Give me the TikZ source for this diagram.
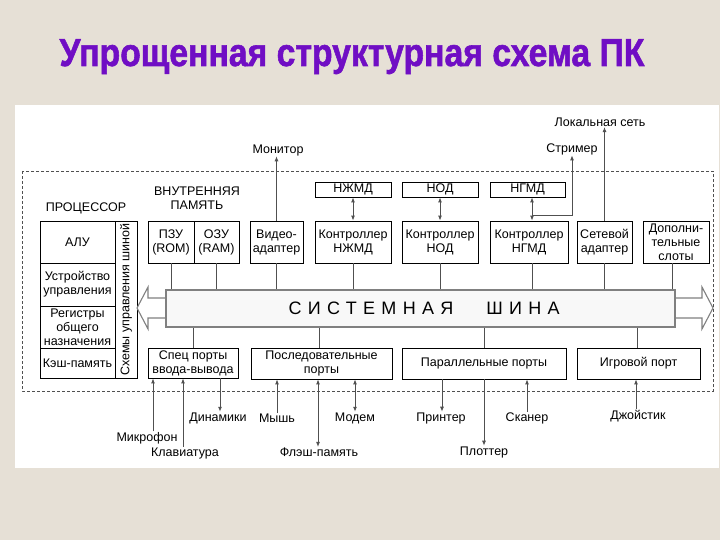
\documentclass[tikz,border=0pt]{standalone}
\usepackage{fontspec}
\usepackage{graphicx}
\setmainfont{Liberation Sans}
\usetikzlibrary{arrows.meta}
\definecolor{bg}{RGB}{230,224,214}
\definecolor{cgray}{RGB}{80,80,80}
\definecolor{ttl}{RGB}{112,14,196}
\definecolor{busfill}{RGB}{248,248,248}
\newcommand\dfont{\fontsize{12.5}{14}\selectfont}
\begin{document}
\begin{tikzpicture}[x=1pt,y=-1pt,
  box/.style={draw=black, line width=0.8pt, fill=white, inner sep=0pt, align=center, font=\dfont},
  lbl/.style={inner sep=0.5pt, align=center, font=\dfont},
  ln/.style={draw=cgray, line width=0.9pt},
  arr/.style={ln, -{Latex[length=5pt,width=4pt]}},
  darr/.style={ln, {Latex[length=5pt,width=4pt]}-{Latex[length=5pt,width=4pt]}},
  blk/.style={draw=gray, line width=1.1pt, fill=white, line join=miter},
  bustxt/.style={inner sep=0pt, font=\fontsize{18}{20}\selectfont\addfontfeature{LetterSpace=35}}]
\useasboundingbox (0,0) rectangle (720,540);
\fill[bg] (0,0) rectangle (720,540);
\fill[white] (15,105) rectangle (719,468);

% title
\node[inner sep=0, anchor=base, text=ttl, font=\bfseries\fontsize{39}{44}\selectfont\addfontfeature{FakeBold=1.6}] (title) at (352,66)
  {\resizebox{585pt}{\height}{Упрощенная структурная схема ПК}};

% dashed frame
\draw[cgray, dash pattern=on 3pt off 2pt, line width=0.8pt] (22,171) rectangle (713,391);

% processor
\node[lbl] (proc) at (86,208) {ПРОЦЕССОР};
\node[box, minimum width=75, minimum height=42] (alu) at (77.5,242) {АЛУ};
\node[box, minimum width=75, minimum height=43] (cu) at (77.5,284.5) {Устройство\\управления};
\node[box, minimum width=75, minimum height=42] (reg) at (77.5,327) {Регистры\\общего\\назначения};
\node[box, minimum width=75, minimum height=30] (cache) at (77.5,363) {Кэш-память};
\node[box, rotate=90, minimum width=157, minimum height=22] (strip) at (126,299.5) {Схемы управления шиной};

% internal memory
\node[lbl] (mem) at (197,198) {ВНУТРЕННЯЯ\\ПАМЯТЬ};
\node[box, minimum width=46, minimum height=42] (rom) at (171,242) {ПЗУ\\(ROM)};
\node[box, minimum width=45, minimum height=42] (ram) at (216.5,242) {ОЗУ\\(RAM)};

% top row
\node[box, minimum width=53, minimum height=42] (video) at (276.5,242) {Видео-\\адаптер};
\node[box, minimum width=76, minimum height=42] (knzhmd) at (353,242) {Контроллер\\НЖМД};
\node[box, minimum width=76, minimum height=15] (nzhmd) at (353,189.5) {НЖМД};
\node[box, minimum width=76, minimum height=42] (knod) at (440,242) {Контроллер\\НОД};
\node[box, minimum width=76, minimum height=15] (nod) at (440,189.5) {НОД};
\node[box, minimum width=78, minimum height=42] (kngmd) at (529,242) {Контроллер\\НГМД};
\node[box, minimum width=75, minimum height=15] (ngmd) at (527.5,189.5) {НГМД};
\node[box, minimum width=55, minimum height=42] (net) at (604.5,242) {Сетевой\\адаптер};
\node[box, minimum width=66, minimum height=42] (dop) at (676,242) {Дополни-\\тельные\\слоты};

\node[lbl] (mon) at (278,150) {Монитор};
\node[lbl] (strim) at (572,149) {Стример};
\node[lbl] (lan) at (600,122) {Локальная сеть};

% block arrows and bus
\draw[blk] (166,298) -- (148,298) -- (148,287) -- (137,308) -- (148,329) -- (148,318) -- (166,318);
\draw[blk] (675,298) -- (702,298) -- (702,287) -- (713,308) -- (702,329) -- (702,318) -- (675,318);
\node[draw=gray, line width=1.2pt, fill=busfill, minimum width=509, minimum height=37, inner sep=0] (bus) at (420.5,308.5) {};
\node[bustxt] (w1) at (371,308) {СИСТЕМНАЯ};
\node[bustxt] (w2) at (523,308) {ШИНА};

% bottom row
\node[box, minimum width=90, minimum height=30] (sp) at (193,363) {Спец порты\\ввода-вывода};
\node[box, minimum width=141, minimum height=31] (seq) at (321.5,363.5) {Последовательные\\порты};
\node[box, minimum width=164, minimum height=31] (par) at (484,363.5) {Параллельные порты};
\node[box, minimum width=123, minimum height=31] (game) at (638.5,363.5) {Игровой порт};

% bottom labels
\node[lbl] (mic) at (147,438) {Микрофон};
\node[lbl] (kbd) at (185,453) {Клавиатура};
\node[lbl] (dyn) at (218,418) {Динамики};
\node[lbl] (mouse) at (277,418) {Мышь};
\node[lbl] (flash) at (319,452) {Флэш-память};
\node[lbl] (modem) at (355,418) {Модем};
\node[lbl] (printer) at (441,418) {Принтер};
\node[lbl] (plotter) at (484,452) {Плоттер};
\node[lbl] (scanner) at (527,418) {Сканер};
\node[lbl] (joy) at (638,416) {Джойстик};

% connectors to bus
\draw[ln] (rom.south) -- (rom.south |- bus.north);
\draw[ln] (ram.south) -- (ram.south |- bus.north);
\draw[ln] (video.south) -- (video.south |- bus.north);
\draw[ln] (knzhmd.south) -- (knzhmd.south |- bus.north);
\draw[ln] (knod.south) -- (knod.south |- bus.north);
\draw[ln] (532,0 |- kngmd.south) -- (532,0 |- bus.north);
\draw[ln] (net.south) -- (net.south |- bus.north);
\draw[ln] (672,0 |- dop.south) -- (672,0 |- bus.north);
\draw[ln] (sp.north) -- (sp.north |- bus.south);
\draw[ln] (319,0 |- seq.north) -- (319,0 |- bus.south);
\draw[ln] (par.north) -- (par.north |- bus.south);
\draw[ln] (637,0 |- game.north) -- (637,0 |- bus.south);

% top arrows
\draw[arr] (video.north) -- (video.north |- mon.south);
\draw[darr] (nzhmd.south) -- (knzhmd.north);
\draw[darr] (nod.south) -- (knod.north);
\draw[darr] (532,0 |- ngmd.south) -- (532,0 |- kngmd.north);
\coordinate (j) at (532,215);
\draw[arr] (j) -| (strim.south);
\draw[arr] (net.north) -- (net.north |- lan.south);

% bottom arrows
\draw[arr] (153,0 |- mic.north) -- (153,0 |- sp.south);
\draw[arr] (183,0 |- kbd.north) -- (183,0 |- sp.south);
\draw[arr] (220,0 |- sp.south) -- (220,0 |- dyn.north);
\draw[arr] (mouse.north) -- (mouse.north |- seq.south);
\draw[darr] (318,0 |- seq.south) -- (318,0 |- flash.north);
\draw[darr] (modem.north |- seq.south) -- (modem.north);
\draw[arr] (442,0 |- par.south) -- (442,0 |- printer.north);
\draw[arr] (plotter.north |- par.south) -- (plotter.north);
\draw[arr] (scanner.north) -- (scanner.north |- par.south);
\draw[arr] (636,0 |- joy.north) -- (636,0 |- game.south);
\end{tikzpicture}
\end{document}
